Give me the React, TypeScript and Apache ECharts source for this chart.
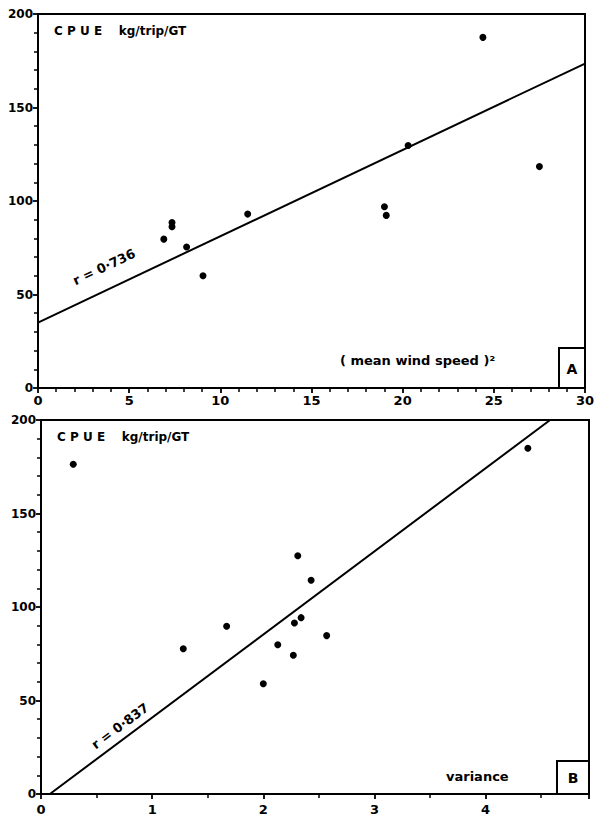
import React, { useEffect, useRef } from "react";
import * as echarts from "echarts";

// Panel A: (mean wind speed)^2 vs CPUE
const aWind = [6.9, 7.35, 7.35, 8.15, 9.05, 11.5, 19.0, 19.1, 20.3, 24.4, 27.5];
const aCpue = [79.6, 88.5, 86.2, 75.4, 60, 93, 96.9, 92.3, 129.7, 187.5, 118.4];
const aFitX = [0, 30];
const aFitY = [35, 173.5];
const aXTicks = ["0", "5", "10", "15", "20", "25", "30"];

// Panel B: variance vs CPUE
const bVar = [0.29, 1.28, 1.67, 2.0, 2.13, 2.27, 2.28, 2.31, 2.34, 2.43, 2.57, 4.38];
const bCpue = [176.3, 77.7, 89.7, 59, 79.8, 74.2, 91.4, 127.4, 94.3, 114.3, 84.7, 184.9];
const bFitX = [0.08, 4.58];
const bFitY = [0, 200];

const yTicks = ["0", "50", "100", "150", "200"];

const FONT = "DejaVu Sans";

export default function App() {
  const ref = useRef<HTMLDivElement>(null);
  useEffect(() => {
    if (!ref.current) return;
    const chart = echarts.init(ref.current, null, { renderer: "svg" });
    const axisCommon = {
      axisLine: { show: true, lineStyle: { color: "#000", width: 2 } },
      axisTick: { show: true, inside: false, length: 5, lineStyle: { color: "#000", width: 1.8 } },
      minorTick: { show: true, length: 4, lineStyle: { color: "#000", width: 1.5 } },
      splitLine: { show: false },
    };
    const labelStyle = { color: "#000", fontFamily: FONT, fontWeight: "bold" as const, fontSize: 12 };
    const yAxisBase = (gi: number) => ({
      type: "value" as const,
      gridIndex: gi,
      min: 0,
      max: 200,
      interval: 50,
      ...axisCommon,
      minorTick: { ...axisCommon.minorTick, splitNumber: 5 },
      axisLabel: { ...labelStyle, margin: 5, formatter: (v: number) => yTicks[v / 50] ?? "" },
    });
    const textStyle = (text: string, extra: any = {}) => ({
      text,
      fill: "#000",
      fontFamily: FONT,
      fontWeight: "bold",
      fontSize: 12,
      ...extra,
    });
    chart.setOption({
      animation: false,
      backgroundColor: "#fff",
      grid: [
        { left: 38, top: 14, width: 547, height: 374, show: true, borderColor: "#000", borderWidth: 2, backgroundColor: "transparent" },
        { left: 41, top: 420, width: 548, height: 374, show: true, borderColor: "#000", borderWidth: 2, backgroundColor: "transparent" },
      ],
      xAxis: [
        {
          type: "value",
          gridIndex: 0,
          min: 0,
          max: 30,
          interval: 5,
          ...axisCommon,
          minorTick: { ...axisCommon.minorTick, splitNumber: 5 },
          axisLabel: { ...labelStyle, fontSize: 13, margin: 6, formatter: (v: number) => aXTicks[v / 5] ?? "" },
        },
        {
          type: "value",
          gridIndex: 1,
          min: 0,
          max: 4.93,
          interval: 1,
          ...axisCommon,
          minorTick: { ...axisCommon.minorTick, splitNumber: 2 },
          axisLabel: { ...labelStyle, fontSize: 13, margin: 9, showMaxLabel: false },
        },
      ],
      yAxis: [yAxisBase(0), yAxisBase(1)],
      series: [
        {
          type: "scatter",
          xAxisIndex: 0,
          yAxisIndex: 0,
          data: aWind.map((x, i) => [x, aCpue[i]]),
          symbol: "circle",
          symbolSize: 7,
          itemStyle: { color: "#000", opacity: 1 },
        },
        {
          type: "line",
          xAxisIndex: 0,
          yAxisIndex: 0,
          data: aFitX.map((x, i) => [x, aFitY[i]]),
          showSymbol: false,
          symbol: "none",
          lineStyle: { color: "#000", width: 2 },
        },
        {
          type: "scatter",
          xAxisIndex: 1,
          yAxisIndex: 1,
          data: bVar.map((x, i) => [x, bCpue[i]]),
          symbol: "circle",
          symbolSize: 7,
          itemStyle: { color: "#000", opacity: 1 },
        },
        {
          type: "line",
          xAxisIndex: 1,
          yAxisIndex: 1,
          data: bFitX.map((x, i) => [x, bFitY[i]]),
          showSymbol: false,
          symbol: "none",
          lineStyle: { color: "#000", width: 2 },
        },
      ],
      graphic: [
        { type: "text", left: 54, top: 25, style: textStyle("C P U E    kg/trip/GT") },
        { type: "text", left: 57, top: 431, style: textStyle("C P U E    kg/trip/GT") },
        {
          type: "text",
          x: 104,
          y: 267,
          rotation: 0.44,
          style: textStyle("r = 0·736", { fontSize: 13, align: "center", verticalAlign: "middle" }),
        },
        {
          type: "text",
          x: 120,
          y: 726,
          rotation: 0.64,
          style: textStyle("r = 0·837", { fontSize: 13, align: "center", verticalAlign: "middle" }),
        },
        { type: "text", left: 340, top: 354, style: textStyle("( mean wind speed )²", { fontSize: 13 }) },
        { type: "text", left: 446, top: 770, style: textStyle("variance", { fontSize: 13 }) },
        { type: "rect", shape: { x: 559, y: 348, width: 26, height: 40 }, style: { fill: "#fff", stroke: "#000", lineWidth: 2 } },
        { type: "text", x: 572, y: 369, style: textStyle("A", { fontSize: 14, align: "center", verticalAlign: "middle" }) },
        { type: "rect", shape: { x: 557, y: 761, width: 32, height: 33 }, style: { fill: "#fff", stroke: "#000", lineWidth: 2 } },
        { type: "text", x: 573, y: 778, style: textStyle("B", { fontSize: 14, align: "center", verticalAlign: "middle" }) },
      ],
    });
    return () => chart.dispose();
  }, []);
  return <div ref={ref} style={{ position: "fixed", left: 0, top: 0, width: 600, height: 828, background: "#fff" }} />;
}
